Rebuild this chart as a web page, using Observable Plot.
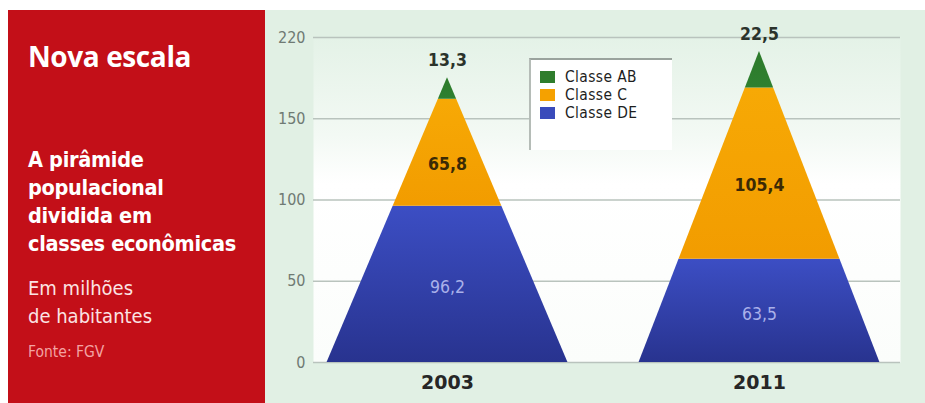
<!DOCTYPE html>
<html>
<head>
<meta charset="utf-8">
<script src="https://cdn.jsdelivr.net/npm/d3@7"></script>
<script src="https://cdn.jsdelivr.net/npm/@observablehq/plot@0.6"></script>
<style>
  html, body { margin: 0; padding: 0; background: #ffffff; }
  body { width: 925px; height: 403px; position: relative; overflow: hidden; }
  #panel { position: absolute; left: 8px; top: 10px; width: 259px; height: 393px; background: #c30f18; }
  .ptxt { position: absolute; left: 28px; color: #ffffff; white-space: nowrap; }
  #t1 { top: 38px; font-family: "Open Sans", sans-serif; font-size: 28px; font-weight: 700; letter-spacing: -0.4px; line-height: 36px; }
  #t2 { top: 146px; font-family: "DejaVu Sans Condensed", "DejaVu Sans", sans-serif; font-size: 21.5px; font-weight: 700; line-height: 28px; letter-spacing: -0.3px; }
  #t3 { top: 274px; font-family: "DejaVu Sans Condensed", "DejaVu Sans", sans-serif; font-size: 20px; font-weight: 400; line-height: 28px; color: #fbe3e3; }
  #t4 { top: 343px; font-family: "DejaVu Sans Condensed", "DejaVu Sans", sans-serif; font-size: 15.5px; font-weight: 400; color: #f3a3a3; }
  #chartbg { position: absolute; left: 265px; top: 10px; width: 660px; height: 393px; background: #e1f0e4; }
  #chartbg svg { position: absolute; left: 0; top: 0; }
  #legend { position: absolute; left: 529px; top: 58px; width: 143px; height: 92px; background: #ffffff;
            border-top: 2px solid #9aa39d; border-left: 2px solid #b5bcb7; box-sizing: border-box;
            font-family: "DejaVu Sans Condensed", "DejaVu Sans", sans-serif; font-size: 15.4px; color: #1e1e1e; letter-spacing: 0.4px; }
  .li { position: absolute; left: 9px; height: 18px; line-height: 18px; white-space: nowrap; }
  .sw { display: inline-block; width: 15px; height: 12px; margin-right: 10px; vertical-align: -1px; }
</style>
</head>
<body>
<div id="panel"></div>
<div class="ptxt" id="t1">Nova escala</div>
<div class="ptxt" id="t2">A pirâmide<br>populacional<br>dividida em<br>classes econômicas</div>
<div class="ptxt" id="t3">Em milhões<br>de habitantes</div>
<div class="ptxt" id="t4">Fonte: FGV</div>
<div id="chartbg"></div>
<div id="legend"></div>
<script>
// ---- data ----
const years = ["2003", "2011"];
const classes = ["Classe DE", "Classe C", "Classe AB"];   // bottom to top
const valuesDE = [96.2, 63.5];
const valuesC = [65.8, 105.4];
const valuesAB = [13.3, 22.5];
const legendOrder = ["Classe AB", "Classe C", "Classe DE"];
const yTicks = [0, 50, 100, 150, 200];
const yTickLabels = ["0", "50", "100", "150", "220"];

// ---- styles ----
const classFill = {"Classe DE": "url(#gDE)", "Classe C": "url(#gC)", "Classe AB": "url(#gAB)"};
const swatchColor = {"Classe AB": "#2f7d2c", "Classe C": "#f5a100", "Classe DE": "#3a4bbb"};
const labelColor = {"Classe AB": "#2b332b", "Classe C": "#3b2a05", "Classe DE": "#aab1ea"};
const halfBase = 0.386; // half width of each pyramid base, in x units

const seriesValues = {"Classe DE": valuesDE, "Classe C": valuesC, "Classe AB": valuesAB};

// build band polygons (as areaX rows) and labels
const bands = [];
const labels = [];
years.forEach((yr, i) => {
  const total = classes.reduce((s, c) => s + seriesValues[c][i], 0);
  let base = 0;
  classes.forEach(c => {
    const v = seriesValues[c][i];
    const top = base + v;
    for (const yv of [base, top]) {
      const hw = halfBase * (1 - yv / total);
      bands.push({key: yr + c, cls: c, y: yv, x1: i - hw, x2: i + hw});
    }
    const txt = String(v).replace(".", ",");
    if (c === "Classe AB") labels.push({x: i, y: top, text: txt, cls: c, dy: -17});
    else if (c === "Classe C") labels.push({x: i, y: (base + top) / 2, text: txt, cls: c, dy: 12});
    else labels.push({x: i, y: (base + top) / 2, text: txt, cls: c, dy: 3});
    base = top;
  });
});

const defs = () => {
  const d = d3.create("svg:defs");
  const mk = (id, stops) => {
    const g = d.append("linearGradient").attr("id", id).attr("x1", 0).attr("y1", 0).attr("x2", 0).attr("y2", 1);
    stops.forEach(([o, c]) => g.append("stop").attr("offset", o).attr("stop-color", c));
  };
  mk("gDE", [[0, "#3c4ec4"], [1, "#28338f"]]);
  mk("gC", [[0, "#f7a905"], [1, "#f29c00"]]);
  mk("gAB", [[0, "#2c7a2a"], [1, "#2f8030"]]);
  mk("gBG", [[0, "#e4f2e7"], [0.3, "#f3f9f4"], [0.45, "#ffffff"], [1, "#fbfdfb"]]);
  return d.node();
};

const marks = [
  defs,
  Plot.frame({fill: "url(#gBG)", stroke: null}),
  Plot.gridY(yTicks, {stroke: "#b9c3bd", strokeOpacity: 1, strokeWidth: 1.5}),
  Plot.axisY({ticks: yTicks, tickFormat: d => yTickLabels[yTicks.indexOf(d)], tickSize: 0, tickPadding: 8,
              label: null, fontSize: 16, color: "#6f7a73", fontFamily: "DejaVu Sans Condensed, DejaVu Sans, sans-serif"}),
];
classes.forEach(c => {
  marks.push(Plot.areaX(bands.filter(b => b.cls === c), {y: "y", x1: "x1", x2: "x2", z: "key", fill: classFill[c], curve: "linear"}));
});
classes.forEach(c => {
  const ls = labels.filter(l => l.cls === c);
  marks.push(Plot.text(ls, {x: "x", y: "y", text: "text", dy: ls[0].dy, fill: labelColor[c],
    fontSize: 17.5, fontWeight: c === "Classe DE" ? 400 : 600,
    fontFamily: "DejaVu Sans Condensed, DejaVu Sans, sans-serif"}));
});
marks.push(Plot.axisX({ticks: [0, 1], tickFormat: i => years[i], tickSize: 0, tickPadding: 13, label: null,
  fontSize: 19, fontWeight: 700, color: "#262626", fontFamily: "DejaVu Sans, sans-serif"}));

const chart = Plot.plot({
  width: 660,
  height: 393,
  marginLeft: 48,
  marginRight: 25,
  marginTop: 27,
  marginBottom: 41,
  x: {domain: [-0.4295, 1.452], label: null},
  y: {domain: [0, 200], label: null},
  style: {background: "transparent", overflow: "visible"},
  marks
});
document.getElementById("chartbg").appendChild(chart);

// legend
const lg = document.getElementById("legend");
legendOrder.forEach((c, k) => {
  const row = document.createElement("div");
  row.className = "li";
  row.style.top = (8 + k * 18) + "px";
  row.innerHTML = `<span class="sw" style="background:${swatchColor[c]}"></span>${c}`;
  lg.appendChild(row);
});
</script>
</body>
</html>
